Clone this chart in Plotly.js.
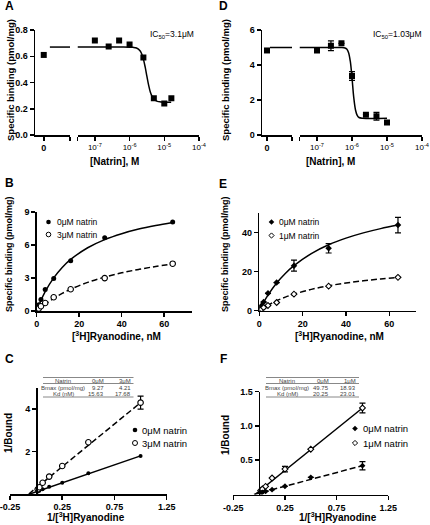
<!DOCTYPE html>
<html><head><meta charset="utf-8">
<script src="https://cdn.plot.ly/plotly-3.0.1.min.js"></script>
<style>html,body{margin:0;padding:0;background:#fff;}#chart{width:430px;height:525px;}</style>
</head><body><div id="chart"></div>
<script>
// ---------- Panel A : natrin inhibition, IC50 = 3.1 uM ----------
const natrinA0 = [0];
const bindA0 = [0.61];
const natrinA = [1e-7, 2.5e-7, 5e-7, 1e-6, 2.5e-6, 5e-6, 1e-5, 1.6e-5];
const bindA = [0.72, 0.675, 0.72, 0.69, 0.59, 0.28, 0.24, 0.28];
const fitA0X = [0.7, 3];
const fitA0Y = [0.67, 0.67];
const fitAX = [3.16e-8, 3.16e-7, 6.31e-7, 1e-6, 1.26e-6, 1.585e-6, 2.0e-6, 2.24e-6, 2.51e-6, 2.82e-6, 3.16e-6, 3.55e-6, 3.98e-6, 4.47e-6, 5.01e-6, 6.31e-6, 7.94e-6, 1.58e-5];
const fitAY = [0.67, 0.67, 0.67, 0.6695, 0.668, 0.6625, 0.642, 0.617, 0.576, 0.517, 0.446, 0.378, 0.325, 0.292, 0.272, 0.256, 0.252, 0.25];

// ---------- Panel D : natrin inhibition, IC50 = 1.03 uM ----------
const natrinD0 = [0];
const bindD0 = [4.83];
const natrinD = [1e-7, 2.5e-7, 5e-7, 1e-6, 2.5e-6, 5e-6, 1e-5];
const bindD = [4.83, 5.1, 5.24, 3.37, 1.16, 1.07, 0.72];
const errD = [0, 0.28, 0, 0.25, 0, 0.22, 0];
const fitD0X = [0.3, 2.5];
const fitD0Y = [5.0, 5.0];
const fitDX = [3.16e-8, 3.98e-7, 5.01e-7, 6.31e-7, 7.08e-7, 7.94e-7, 8.91e-7, 1e-6, 1.12e-6, 1.26e-6, 1.41e-6, 1.585e-6, 2.0e-6, 1e-5];
const fitDY = [5.0, 5.0, 4.997, 4.97, 4.91, 4.72, 4.23, 3.28, 2.16, 1.43, 1.12, 1.0, 0.955, 0.95];

const logTickVals = [3.162e-8, 1e-7, 1e-6, 1e-5, 1e-4];
const logTickText = [' ', '10<sup>-7</sup>', '10<sup>-6</sup>', '10<sup>-5</sup>', '10<sup>-4</sup>'];

// ---------- Panels B / E : saturation binding ----------
const ryanodine = [0.5, 1, 2, 4, 8, 16, 32, 64];
const bindB0 = [0.35, 0.56, 1.04, 1.95, 2.96, 4.57, 6.65, 8.1];
const bindB3 = [0.15, 0.23, 0.43, 0.73, 1.25, 1.98, 2.99, 4.3];
const fitX = [0, 2, 4, 8, 12, 16, 24, 32, 40, 48, 56, 64];
const fitB0 = [0, 0.96, 1.76, 3.01, 3.96, 4.69, 5.75, 6.49, 7.03, 7.45, 7.77, 8.04];
const fitB3 = [0, 0.33, 0.63, 1.15, 1.60, 1.98, 2.60, 3.08, 3.47, 3.78, 4.05, 4.27];

const bindE0 = [1.0, 2.5, 4.4, 8.9, 14.4, 23.1, 32.0, 43.9];
const errE0 = [0, 0, 0, 0, 0, 2.8, 2.4, 4.0];
const bindE1 = [0.4, 0.8, 1.6, 2.7, 4.2, 8.5, 12.6, 17.1];
const fitE0 = [0, 4.27, 7.99, 14.17, 19.1, 23.1, 29.3, 33.8, 37.2, 39.9, 42.1, 43.9];
const fitE1 = [0, 1.49, 2.82, 5.08, 6.94, 8.49, 10.94, 12.78, 14.21, 15.36, 16.31, 17.09];

// ---------- Panels C / F : double-reciprocal ----------
const invRyan = [0.0156, 0.03125, 0.0625, 0.125, 0.25, 0.5, 1];
const invC0 = [0.12, 0.15, 0.22, 0.34, 0.53, 0.98, 1.79];
const invC3 = [0.22, 0.32, 0.53, 0.82, 1.32, 2.44, 4.31];
const errC3 = [0, 0, 0, 0, 0, 0, 0.31];
const lineC0X = [-0.06, 1], lineC0Y = [0, 1.80];
const lineC3X = [-0.07, 1], lineC3Y = [0, 4.31];

const invF0 = [0.023, 0.031, 0.045, 0.07, 0.12, 0.25, 0.42];
const errF0 = [0, 0, 0, 0, 0, 0, 0.06];
const invF1 = [0.058, 0.079, 0.118, 0.24, 0.37, 0.66, 1.26];
const errF1 = [0, 0, 0, 0, 0.04, 0, 0.07];
const lineF0X = [-0.05, 1], lineF0Y = [0, 0.42];
const lineF1X = [-0.04, 1], lineF1Y = [0, 1.26];

const recipTickVals = [-0.25, 0.25, 0.75, 1.25];
const recipTickText = ['-0.25', '0.25', '0.75', '1.25'];

// legend labels
const legendB = ['0\u03bcM natrin', '3\u03bcM natrin'];
const legendE = ['0\u03bcM natrin', '1\u03bcM natrin'];
const legendC = ['0\u03bcM natrin', '3\u03bcM natrin'];
const legendF = ['0\u03bcM natrin', '1\u03bcM natrin'];

// tables
const tableHeadC = ['Natrin', '0\u03bcM', '3\u03bcM'];
const tableRowsC = [['Bmax (pmol/mg)', '9.27', '4.21'], ['Kd (nM)', '15.63', '17.68']];
const tableHeadF = ['Natrin', '0\u03bcM', '1\u03bcM'];
const tableRowsF = [['Bmax (pmol/mg)', '49.75', '18.93'], ['Kd (nM)', '20.25', '23.01']];

// ================= drawing =================
const W = 430, H = 525;
const FAM = 'Liberation Sans, Arial, sans-serif';
const BLK = '#000';
const px = v => v / W, py = v => 1 - v / H;

const baseAx = {
  showline: true, linecolor: BLK, linewidth: 1.5, ticks: 'outside', ticklen: 4, tickwidth: 1.5,
  tickcolor: BLK, showgrid: false, zeroline: false, fixedrange: true, ticklabeloverflow: 'allow',
  tickfont: { family: FAM, size: 9, color: BLK, weight: 'bold' }
};
const ax = o => Object.assign({}, baseAx, o);

const lineT = (x, y, xa, ya, dash, shape) => ({
  x, y, xaxis: xa, yaxis: ya, mode: 'lines', hoverinfo: 'skip',
  line: { color: BLK, width: 1.5, dash: dash || 'solid', shape: shape || 'linear' }
});
const markT = (x, y, xa, ya, sym, size, open, err) => {
  const t = {
    x, y, xaxis: xa, yaxis: ya, mode: 'markers',
    marker: { symbol: sym, size, color: open ? '#fff' : BLK, line: { color: BLK, width: open ? 1.1 : 0 } }
  };
  if (err) t.error_y = { type: 'data', array: err, visible: true, color: BLK, thickness: 1.2, width: 3 };
  return t;
};
const DASH = '6px,3px';

const traces = [
  // A
  lineT(fitA0X, fitA0Y, 'x', 'y'),
  lineT(fitAX, fitAY, 'x2', 'y', null, 'spline'),
  markT(natrinA0, bindA0, 'x', 'y', 'square', 6),
  markT(natrinA, bindA, 'x2', 'y', 'square', 6),
  // D
  lineT(fitD0X, fitD0Y, 'x3', 'y2'),
  lineT(fitDX, fitDY, 'x4', 'y2', null, 'spline'),
  markT(natrinD0, bindD0, 'x3', 'y2', 'square', 6),
  markT(natrinD, bindD, 'x4', 'y2', 'square', 6, false, errD),
  // B
  lineT(fitX, fitB0, 'x5', 'y3', null, 'spline'),
  lineT(fitX, fitB3, 'x5', 'y3', DASH, 'spline'),
  markT(ryanodine, bindB0, 'x5', 'y3', 'circle', 5),
  markT(ryanodine, bindB3, 'x5', 'y3', 'circle', 5.5, true),
  // E
  lineT(fitX, fitE0, 'x6', 'y4', null, 'spline'),
  lineT(fitX, fitE1, 'x6', 'y4', DASH, 'spline'),
  markT(ryanodine, bindE0, 'x6', 'y4', 'diamond', 5, false, errE0),
  markT(ryanodine, bindE1, 'x6', 'y4', 'diamond', 4.5, true),
  // C
  lineT(lineC0X, lineC0Y, 'x7', 'y5'),
  lineT(lineC3X, lineC3Y, 'x7', 'y5', DASH),
  markT(invRyan, invC0, 'x7', 'y5', 'circle', 4),
  markT(invRyan, invC3, 'x7', 'y5', 'circle', 5.5, true, errC3),
  // F
  lineT(lineF1X, lineF1Y, 'x8', 'y6'),
  lineT(lineF0X, lineF0Y, 'x8', 'y6', DASH),
  markT(invRyan, invF1, 'x8', 'y6', 'diamond', 4.5, true, errF1),
  markT(invRyan, invF0, 'x8', 'y6', 'diamond', 4.5, false, errF0)
];

const ann = (text, x, y, o) => Object.assign({
  text, x: px(x), y: py(y), xref: 'paper', yref: 'paper', showarrow: false,
  xanchor: 'center', yanchor: 'middle', font: { family: FAM, size: 9, color: BLK }
}, o || {});
const bold = s => '<b>' + s + '</b>';
const LF = s => ({ xanchor: 'left', font: { family: FAM, size: s, color: BLK } });

const annotations = [
  // panel letters
  ann(bold('A'), 3, 6, LF(12)),
  ann(bold('B'), 3, 183, LF(12)),
  ann(bold('C'), 3, 359, LF(12)),
  ann(bold('D'), 217, 6, LF(12)),
  ann(bold('E'), 217, 184, LF(12)),
  ann(bold('F'), 218, 359, LF(12)),
  // y titles
  ann(bold('Specific binding (pmol/mg)'), 10, 80, { textangle: -90, font: { family: FAM, size: 9.5, color: BLK } }),
  ann(bold('Specific binding (pmol/mg)'), 225, 80, { textangle: -90, font: { family: FAM, size: 9.5, color: BLK } }),
  ann(bold('Specific binding (pmol/mg)'), 9, 254, { textangle: -90, font: { family: FAM, size: 9, color: BLK } }),
  ann(bold('Specific binding (pmol/mg)'), 225, 254, { textangle: -90, font: { family: FAM, size: 9, color: BLK } }),
  ann(bold('1/Bound'), 8, 433, { textangle: -90, font: { family: FAM, size: 10, color: BLK } }),
  ann(bold('1/Bound'), 225, 435, { textangle: -90, font: { family: FAM, size: 10, color: BLK } }),
  // x titles
  ann(bold('[Natrin], M'), 115, 162, { font: { family: FAM, size: 10, color: BLK } }),
  ann(bold('[Natrin], M'), 330, 162, { font: { family: FAM, size: 10, color: BLK } }),
  ann(bold('[<sup>3</sup>H]Ryanodine, nM'), 116, 336, { font: { family: FAM, size: 10, color: BLK } }),
  ann(bold('[<sup>3</sup>H]Ryanodine, nM'), 339, 336, { font: { family: FAM, size: 10, color: BLK } }),
  ann(bold('1/[<sup>3</sup>H]Ryanodine'), 86, 517, { font: { family: FAM, size: 10, color: BLK } }),
  ann(bold('1/[<sup>3</sup>H]Ryanodine'), 338, 517, { font: { family: FAM, size: 10, color: BLK } }),
  // IC50 labels
  ann('IC<sub>50</sub>=3.1\u03bcM', 172, 34, { font: { family: FAM, size: 8.5, color: BLK } }),
  ann('IC<sub>50</sub>=1.03\u03bcM', 397, 34, { font: { family: FAM, size: 8.5, color: BLK } }),
  // legend texts
  ann(legendB[0], 54.5, 222, LF(8.5)),
  ann(legendB[1], 54.5, 234.5, LF(8.5)),
  ann(legendE[0], 277, 222, LF(8.5)),
  ann(legendE[1], 277, 235.5, LF(8.5)),
  ann(legendC[0], 139.5, 430, LF(9.5)),
  ann(legendC[1], 139.5, 443, LF(9.5)),
  ann(legendF[0], 360.5, 428.5, LF(9.5)),
  ann(legendF[1], 360.5, 443, LF(9.5))
];

const shapes = [];
// legend symbols (paper-positioned)
function legCircle(cx, cy, r, open) {
  shapes.push({ type: 'circle', xref: 'paper', yref: 'paper', x0: px(cx - r), x1: px(cx + r), y0: py(cy + r), y1: py(cy - r),
    fillcolor: open ? '#fff' : BLK, line: { color: BLK, width: open ? 1 : 0 } });
}
function legDiamond(cx, cy, r, open) {
  const p = [[cx, cy - r], [cx + r, cy], [cx, cy + r], [cx - r, cy]].map(q => px(q[0]) + ',' + py(q[1]));
  shapes.push({ type: 'path', xref: 'paper', yref: 'paper', path: 'M' + p.join('L') + 'Z',
    fillcolor: open ? '#fff' : BLK, line: { color: BLK, width: open ? 1 : 0 } });
}
legCircle(48.5, 222, 2.3, false); legCircle(48.5, 234.5, 2.3, true);
legDiamond(271.5, 222, 2.8, false); legDiamond(271.5, 235.5, 2.6, true);
legCircle(135, 430, 2.3, false); legCircle(135, 443, 2.5, true);
legDiamond(355, 428.5, 2.8, false); legDiamond(355, 443, 2.6, true);

// tables
function addTable(head, rows, labelX, col2R, col3R, left, right) {
  const f = { family: FAM, size: 6, color: '#444' };
  const rowY = [380.5, 387.5, 393.5];
  const all = [head].concat(rows);
  all.forEach((r, i) => {
    annotations.push(ann(r[0], labelX, rowY[i], { font: f }));
    annotations.push(ann(r[1], col2R, rowY[i], { xanchor: 'right', font: f }));
    annotations.push(ann(r[2], col3R, rowY[i], { xanchor: 'right', font: f }));
  });
  [377.5, 383.5, 397].forEach(yv => shapes.push({
    type: 'line', xref: 'paper', yref: 'paper', x0: px(left), x1: px(right), y0: py(yv), y1: py(yv),
    line: { color: '#888', width: 1 }
  }));
}
addTable(tableHeadC, tableRowsC, 63, 106, 133, 43, 133.5);
addTable(tableHeadF, tableRowsF, 287, 331, 357.5, 266, 359);

const yA = [py(135), py(30)];
const layout = {
  width: W, height: H, margin: { l: 0, r: 0, t: 0, b: 0 },
  paper_bgcolor: '#fff', plot_bgcolor: 'rgba(0,0,0,0)', showlegend: false,
  font: { family: FAM, color: BLK },
  // A
  xaxis: ax({ domain: [px(35), px(70)], range: [-1, 3], anchor: 'y', tickvals: [0, 3], ticktext: ['0', ' '] }),
  xaxis2: ax({ domain: [px(77.5), px(199)], type: 'log', range: [-7.5, -4], anchor: 'y', tickvals: logTickVals, ticktext: logTickText, tickfont: { family: FAM, size: 8, color: BLK } }),
  yaxis: ax({ domain: yA, range: [0, 0.8], anchor: 'x', tickvals: [0, 0.2, 0.4, 0.6, 0.8], ticktext: ['0.0', '0.2', '0.4', '0.6', '0.8'] }),
  // D
  xaxis3: ax({ domain: [px(262), px(292)], range: [-0.5, 2.5], anchor: 'y2', tickvals: [0, 2.5], ticktext: ['0', ' '] }),
  xaxis4: ax({ domain: [px(299.5), px(422)], type: 'log', range: [-7.5, -4], anchor: 'y2', tickvals: logTickVals, ticktext: logTickText, tickfont: { family: FAM, size: 8, color: BLK } }),
  yaxis2: ax({ domain: yA, range: [0, 6], anchor: 'x3', tickvals: [0, 2, 4, 6] }),
  // B
  xaxis5: ax({ domain: [px(36.7), px(191.8)], range: [0, 73], anchor: 'y3', tickvals: [0, 20, 40, 60] }),
  yaxis3: ax({ domain: [py(311), py(212)], range: [0, 9], anchor: 'x5', tickvals: [0, 3, 6, 9] }),
  // E
  xaxis6: ax({ domain: [px(259.3), px(416.4)], range: [0, 72.5], anchor: 'y4', tickvals: [0, 20, 40, 60] }),
  yaxis4: ax({ domain: [py(310.7), py(213.2)], range: [0, 50], anchor: 'x6', tickvals: [0, 20, 40] }),
  // C
  xaxis7: ax({ domain: [px(10), px(166.7)], range: [-0.25, 1.25], anchor: 'y5', tickvals: recipTickVals, ticktext: recipTickText }),
  yaxis5: ax({ domain: [py(494), py(388)], range: [0, 5], anchor: 'free', position: px(36), tickvals: [2, 4] }),
  // F
  xaxis8: ax({ domain: [px(233.3), px(388.3)], range: [-0.25, 1.25], anchor: 'y6', tickvals: recipTickVals, ticktext: recipTickText }),
  yaxis6: ax({ domain: [py(494.5), py(391.5)], range: [0, 1.5], anchor: 'free', position: px(258.5), tickvals: [0.5, 1, 1.5], ticktext: ['0.5', '1.0', '1.5'] }),
  annotations, shapes
};

Plotly.newPlot('chart', traces, layout, { staticPlot: true, displayModeBar: false });
</script></body></html>
